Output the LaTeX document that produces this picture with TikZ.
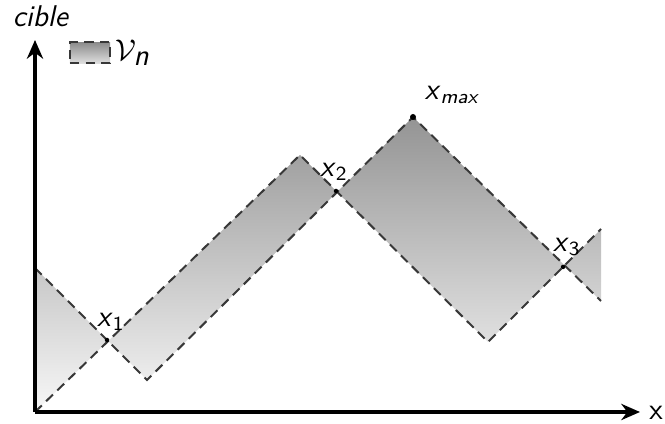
\documentclass[tikz,border=0pt]{standalone}
\usetikzlibrary{arrows.meta, positioning}
\begin{document}
\begin{tikzpicture}[x=0.4pt, y=0.4pt, font=\fontsize{12}{14}\selectfont\sffamily]
    % Define styles
    \tikzstyle{axis} = [line width=1.3pt, -{Stealth[length=7.5pt, width=6.5pt]}]
    \tikzstyle{bound} = [draw=black!78, line width=0.8pt, dash pattern=on 3.8pt off 2.4pt]
    \tikzstyle{zone} = [top color=black!42, bottom color=black!3]
    \tikzstyle{pt} = [circle, fill=black, inner sep=0pt, minimum size=1.8pt]

    \useasboundingbox (-35,-12) rectangle (630,412);

    % Vertices of the two bounds
    \coordinate (o) at (0,0);
    \coordinate (a0) at (0,144);
    \coordinate (a1) at (112,32);
    \coordinate (a2) at (378,295);
    \coordinate (a3) at (566,111);
    \coordinate (b1) at (265,257);
    \coordinate (b2) at (453,70);
    \coordinate (b3) at (566,183);

    % Shaded zone and its bounds
    \shade[zone] (a0) -- (a1) -- (a2) -- (a3) -- (b3) -- (b2) -- (b1) -- (o) -- cycle;
    \draw[bound] (a0) -- (a1) -- (a2) -- (a3);
    \draw[bound] (o) -- (b1) -- (b2) -- (b3);

    % Axes
    \coordinate (xend) at (605,0);
    \coordinate (yend) at (0,372);
    \draw[axis] (o) -- (xend);
    \draw[axis] (o) -- (yend);
    \node (xlab) at (621,-1) {x};
    \node (ylab) at (6,396) {\textit{cible}};

    % Crossings and maximum
    \node[pt] (x1) at (72,72) {};
    \node[pt] (x2) at (301,221) {};
    \node[pt] (x3) at (528,145) {};
    \node[pt, minimum size=2.4pt] (xmax) at (a2) {};
    \node (x1lab) at (76,90) {\textit{x}\textsubscript{1}};
    \node (x2lab) at (299,240) {\textit{x}\textsubscript{2}};
    \node (x3lab) at (532,165) {\textit{x}\textsubscript{3}};
    \node[anchor=west] (xmaxlab) at (381,317) {\textit{x}\textsubscript{\textit{max}}};

    % Legend
    \node[bound, top color=black!45, bottom color=black!12, minimum width=16pt, minimum height=8.4pt, inner sep=0pt] (leg) at (55,359) {};
    \node[right=0.5pt of leg, inner sep=1pt] (legtxt) {$\mathcal{V}_{\textit{n}}$};
\end{tikzpicture}
\end{document}
